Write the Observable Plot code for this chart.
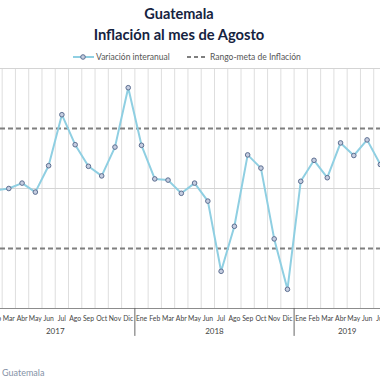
<!DOCTYPE html>
<html>
<head>
<meta charset="utf-8">
<script src="https://cdn.jsdelivr.net/npm/d3@7"></script>
<script src="https://cdn.jsdelivr.net/npm/@observablehq/plot@0.6"></script>
<style>
  html, body { margin: 0; padding: 0; background: #fff; }
  #wrap { position: relative; width: 380px; height: 380px; overflow: hidden; font-family: Lato, "DejaVu Sans", sans-serif; }
  .t { position: absolute; left: 0; width: 358px; text-align: center; color: #16233f; font-weight: bold; }
  .leg { position: absolute; font-size: 8.5px; color: #555; white-space: nowrap; line-height: 10px; }
  #chart { position: absolute; left: 0; top: 64px; }
  #cap { position: absolute; left: 2px; top: 367px; font-size: 9px; color: #8592a6; line-height: 12px; }
</style>
</head>
<body>
<div id="wrap">
  <div class="t" style="top:5px;font-size:14.5px;line-height:18px;">Guatemala</div>
  <div class="t" style="top:25px;font-size:14.7px;line-height:18px;">Inflación al mes de Agosto</div>
  <svg class="leg" style="left:72px;top:52px;" width="23" height="10">
    <line x1="1" x2="22" y1="5" y2="5" stroke="#8fcfe2" stroke-width="2"></line>
    <circle cx="11" cy="5" r="2.3" fill="#c5cde0" stroke="#5d6f91" stroke-width="1"></circle>
  </svg>
  <div class="leg" style="left:96px;top:52px;">Variación interanual</div>
  <svg class="leg" style="left:186px;top:52px;" width="22" height="10">
    <line x1="1" x2="21" y1="5" y2="5" stroke="#7f7f7f" stroke-width="2" stroke-dasharray="4,3"></line>
  </svg>
  <div class="leg" style="left:210px;top:52px;">Rango-meta de Inflación</div>
  <div id="chart"></div>
  <div id="cap">Guatemala</div>
</div>
<script>
// Categories
const meses = ["Ene","Feb","Mar","Abr","May","Jun","Jul","Ago","Sep","Oct","Nov","Dic"];
const anios = [2017, 2018, 2019];
const mesesPorAnio = [12, 12, 8]; // 2019 runs Ene-Ago
// Interannual inflation (%), Feb 2017 .. Jul 2019
const inicioSerie = 1; // index of Feb 2017
const inflacion = [
  3.97, 4.00, 4.09, 3.94, 4.38, 5.23, 4.73, 4.37, 4.21, 4.69, 5.68,
  4.72, 4.16, 4.14, 3.92, 4.09, 3.79, 2.62, 3.37, 4.56, 4.34, 3.16, 2.32,
  4.12, 4.47, 4.18, 4.76, 4.55, 4.81, 4.40
];
// Target range (%)
const rangoMeta = [3, 5];
const gridY = [4, 6];
const yDominio = [2, 6];

// Build tables
const periodos = [];
anios.forEach((a, k) => { for (let m = 0; m < mesesPorAnio[k]; m++) periodos.push({i: periodos.length, anio: a, mes: meses[m]}); });
const serie = inflacion.map((v, j) => ({i: inicioSerie + j, v}));
const bordes = d3.range(-0.5, periodos.length, 1);
let acc = 0;
const grupos = anios.map((a, k) => { const s = acc; acc += mesesPorAnio[k]; return {anio: a, centro: (s + acc - 1) / 2, fin: acc - 0.5}; });
const separadores = grupos.slice(0, -1).map(g => g.fin);

const step = 13.27;
const x0 = 8.3 - 2.5 * step;

const chart = Plot.plot({
  width: 380,
  height: 290,
  marginTop: 4,
  marginBottom: 46,
  marginLeft: 0,
  marginRight: 0,
  style: {fontFamily: "Lato, 'DejaVu Sans', sans-serif", fontSize: "7px", color: "#444", background: "transparent"},
  x: {type: "linear", domain: [-0.5, periodos.length - 0.5], range: [x0, x0 + periodos.length * step], axis: null},
  y: {domain: yDominio, axis: null},
  marks: [
    Plot.ruleX(bordes, {x: d => d, y1: yDominio[0], y2: yDominio[1], stroke: "#dedede", strokeWidth: 1}),
    Plot.ruleY(gridY, {stroke: "#d4d4d4", strokeWidth: 1}),
    Plot.ruleY(rangoMeta, {stroke: "#7f7f7f", strokeWidth: 2, strokeDasharray: "5,3"}),
    Plot.ruleY([yDominio[0]], {stroke: "#8c8c8c", strokeWidth: 1}),
    Plot.ruleX(separadores, {x: d => d, y1: yDominio[0], y2: yDominio[0] - 0.465, stroke: "#666", strokeWidth: 1, clip: false}),
    Plot.line(serie, {x: "i", y: "v", stroke: "#8fcfe2", strokeWidth: 2}),
    Plot.dot(serie, {x: "i", y: "v", r: 2.3, fill: "#c5cde0", stroke: "#5d6f91", strokeWidth: 1}),
    Plot.text(periodos, {x: "i", y: yDominio[0], dy: 10, text: "mes", fill: "#444", fontSize: 6.8}),
    Plot.text(grupos, {x: "centro", y: yDominio[0], dy: 23, text: d => String(d.anio), fill: "#444", fontSize: 8})
  ]
});
document.getElementById("chart").appendChild(chart);
</script>
</body>
</html>
